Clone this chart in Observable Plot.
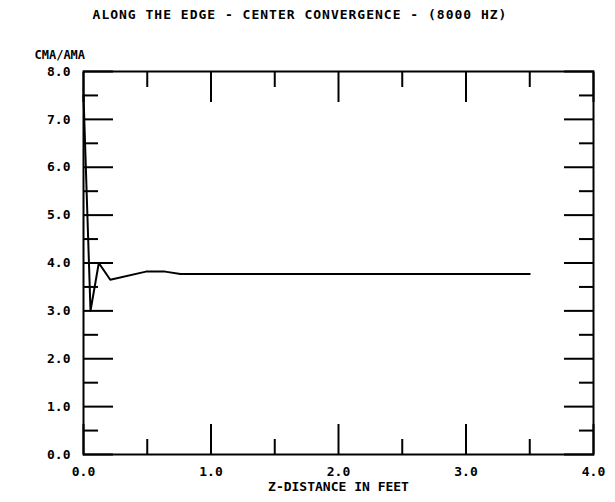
<!DOCTYPE html>
<html>
<head>
<meta charset="utf-8">
<script src="https://cdn.jsdelivr.net/npm/d3@7"></script>
<script src="https://cdn.jsdelivr.net/npm/@observablehq/plot@0.6"></script>
<style>
  html, body { margin: 0; padding: 0; background: #fff; }
  #wrap { position: relative; width: 615px; height: 502px; overflow: hidden; }
  #title { position: absolute; left: 0; top: 0; width: 600px; height: 30px; line-height: 30px;
           text-align: center; font-family: "DejaVu Sans Mono", monospace; font-weight: bold;
           font-size: 13px; letter-spacing: 1px; color: #000; }
  #chart { position: absolute; left: 0; top: 30px; }
</style>
</head>
<body>
<div id="wrap">
  <div id="title">ALONG THE EDGE - CENTER CONVERGENCE - (8000 HZ)</div>
  <div id="chart"></div>
</div>
<script>
// Data
const zDistance = [0.0, 0.055, 0.12, 0.21, 0.49, 0.64, 0.76, 3.5];
const cmaAma    = [7.5, 3.0,  4.0,  3.65, 3.82, 3.82, 3.77, 3.77];
const xMajor = [0, 1, 2, 3, 4];
const xMinor = [0.5, 1.5, 2.5, 3.5];
const yMajor = [0, 1, 2, 3, 4, 5, 6, 7, 8];
const yMinor = [0.5, 1.5, 2.5, 3.5, 4.5, 5.5, 6.5, 7.5];
const yLabel = "CMA/AMA";
const xLabel = "Z-DISTANCE IN FEET";

const data = zDistance.map((z, i) => ({z, r: cmaAma[i]}));
const fmt = d => d.toFixed(1);
const tk = {fill: "none", label: null, strokeWidth: 2};

const chart = Plot.plot({
  width: 615,
  height: 472,
  marginLeft: 83,
  marginRight: 22,
  marginTop: 41,
  marginBottom: 48,
  style: {fontFamily: "'DejaVu Sans Mono', monospace", fontWeight: "bold", fontSize: "13px", color: "#000", background: "#fff"},
  x: {domain: [0, 4]},
  y: {domain: [0, 8]},
  marks: [
    Plot.frame({strokeWidth: 2}),
    // inward ticks
    Plot.axisX({...tk, anchor: "bottom", ticks: xMajor, tickSize: -30}),
    Plot.axisX({...tk, anchor: "bottom", ticks: xMinor, tickSize: -15}),
    Plot.axisX({...tk, anchor: "top", ticks: xMajor, tickSize: -30}),
    Plot.axisX({...tk, anchor: "top", ticks: xMinor, tickSize: -15}),
    Plot.axisY({...tk, anchor: "left", ticks: yMajor, tickSize: -30}),
    Plot.axisY({...tk, anchor: "left", ticks: yMinor, tickSize: -15}),
    Plot.axisY({...tk, anchor: "right", ticks: yMajor, tickSize: -30}),
    Plot.axisY({...tk, anchor: "right", ticks: yMinor, tickSize: -15}),
    // tick labels
    Plot.axisX({anchor: "bottom", ticks: xMajor, tickSize: 0, tickPadding: 12, tickFormat: fmt, label: null, fontSize: 13, style: {letterSpacing: "1.5px"}}),
    Plot.axisY({anchor: "left", ticks: yMajor, tickSize: 0, tickPadding: 13, tickFormat: fmt, label: null, fontSize: 13}),
    Plot.text([yLabel], {frameAnchor: "top-left", text: d => d, textAnchor: "start", dx: -49, dy: -21, fontSize: 12}),
    Plot.text([xLabel], {frameAnchor: "bottom", text: d => d, dy: 36, fontSize: 13}),
    Plot.line(data, {x: "z", y: "r", strokeWidth: 2, stroke: "#000"})
  ]
});
document.getElementById("chart").appendChild(chart);
</script>
</body>
</html>
